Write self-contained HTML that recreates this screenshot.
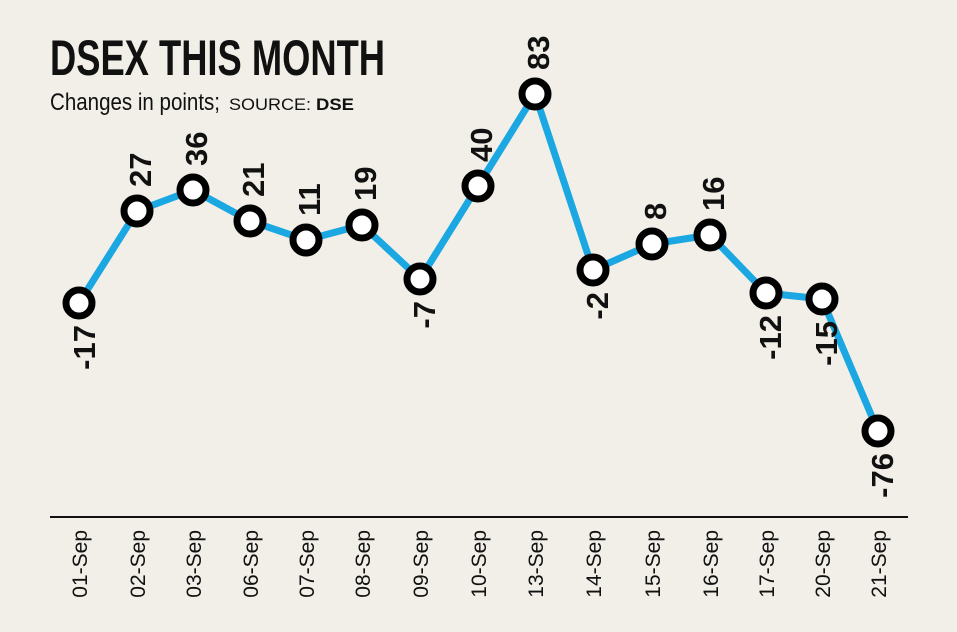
<!DOCTYPE html>
<html><head><meta charset="utf-8"><style>
body{margin:0;background:#f1efe7;}
svg{display:block}
text{font-family:"Liberation Sans Narrow","Liberation Sans",sans-serif;fill:#111;}
</style></head><body>
<svg width="957" height="632" viewBox="0 0 957 632">
<rect width="957" height="632" fill="#f1efe7"/>
<text x="50" y="75" font-size="50" font-weight="bold" textLength="335" lengthAdjust="spacingAndGlyphs">DSEX THIS MONTH</text>
<text x="50" y="110" font-size="24" textLength="170" lengthAdjust="spacingAndGlyphs">Changes in points;</text>
<text x="229" y="110" font-size="17" textLength="82" lengthAdjust="spacingAndGlyphs">SOURCE:</text>
<text x="316" y="110" font-size="17" font-weight="bold" textLength="38" lengthAdjust="spacingAndGlyphs">DSE</text>
<line x1="50" y1="517" x2="908" y2="517" stroke="#111" stroke-width="2"/>
<polyline fill="none" stroke="#1aa7e2" stroke-width="7" stroke-linejoin="round" points="79,303 137,211 193,190 250,221 306,240 362,225 420,279 478,186 535,94 593,270 652,244 710,235 766,293 822,299 878,431"/>
<g fill="#fff" stroke="#000" stroke-width="7">
<circle cx="79" cy="303" r="13"/><circle cx="137" cy="211" r="13"/><circle cx="193" cy="190" r="13"/><circle cx="250" cy="221" r="13"/><circle cx="306" cy="240" r="13"/><circle cx="362" cy="225" r="13"/><circle cx="420" cy="279" r="13"/><circle cx="478" cy="186" r="13"/><circle cx="535" cy="94" r="13"/><circle cx="593" cy="270" r="13"/><circle cx="652" cy="244" r="13"/><circle cx="710" cy="235" r="13"/><circle cx="766" cy="293" r="13"/><circle cx="822" cy="299" r="13"/><circle cx="878" cy="431" r="13"/>
</g>
<g font-size="31" font-weight="bold">
<text transform="translate(95,325) rotate(-90)" text-anchor="end">-17</text>
<text transform="translate(151,187) rotate(-90)">27</text>
<text transform="translate(207,166) rotate(-90)">36</text>
<text transform="translate(264,197) rotate(-90)">21</text>
<text transform="translate(320,216) rotate(-90)">11</text>
<text transform="translate(376,201) rotate(-90)">19</text>
<text transform="translate(435,301) rotate(-90)" text-anchor="end">-7</text>
<text transform="translate(492,162) rotate(-90)">40</text>
<text transform="translate(549,70) rotate(-90)">83</text>
<text transform="translate(608,292) rotate(-90)" text-anchor="end">-2</text>
<text transform="translate(666,220) rotate(-90)">8</text>
<text transform="translate(724,211) rotate(-90)">16</text>
<text transform="translate(781,315) rotate(-90)" text-anchor="end">-12</text>
<text transform="translate(837,321) rotate(-90)" text-anchor="end">-15</text>
<text transform="translate(893,453) rotate(-90)" text-anchor="end">-76</text>
</g>
<g font-size="21">
<text transform="translate(87,530) rotate(-90)" text-anchor="end">01-Sep</text>
<text transform="translate(145,530) rotate(-90)" text-anchor="end">02-Sep</text>
<text transform="translate(201,530) rotate(-90)" text-anchor="end">03-Sep</text>
<text transform="translate(258,530) rotate(-90)" text-anchor="end">06-Sep</text>
<text transform="translate(314,530) rotate(-90)" text-anchor="end">07-Sep</text>
<text transform="translate(370,530) rotate(-90)" text-anchor="end">08-Sep</text>
<text transform="translate(428,530) rotate(-90)" text-anchor="end">09-Sep</text>
<text transform="translate(486,530) rotate(-90)" text-anchor="end">10-Sep</text>
<text transform="translate(543,530) rotate(-90)" text-anchor="end">13-Sep</text>
<text transform="translate(601,530) rotate(-90)" text-anchor="end">14-Sep</text>
<text transform="translate(660,530) rotate(-90)" text-anchor="end">15-Sep</text>
<text transform="translate(718,530) rotate(-90)" text-anchor="end">16-Sep</text>
<text transform="translate(774,530) rotate(-90)" text-anchor="end">17-Sep</text>
<text transform="translate(830,530) rotate(-90)" text-anchor="end">20-Sep</text>
<text transform="translate(886,530) rotate(-90)" text-anchor="end">21-Sep</text>
</g>
</svg>
</body></html>
